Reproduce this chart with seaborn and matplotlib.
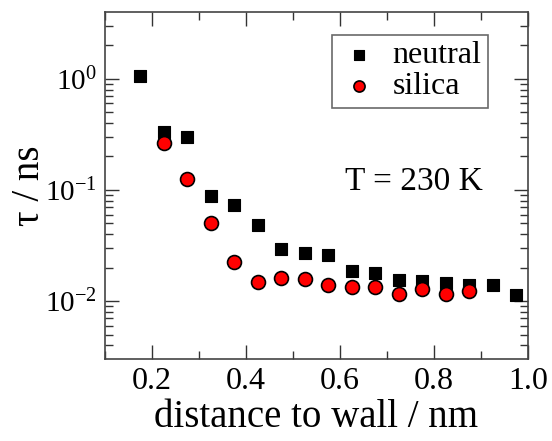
import matplotlib
matplotlib.use("Agg")
import matplotlib.pyplot as plt
import seaborn as sns
import numpy as np
import pandas as pd
from matplotlib.ticker import LogLocator, MultipleLocator, FixedLocator

neutral_x = [0.175, 0.225, 0.275, 0.325, 0.375, 0.425, 0.475, 0.525, 0.575,
             0.625, 0.675, 0.725, 0.775, 0.825, 0.875, 0.925, 0.975]
neutral_tau = [1.05, 0.33, 0.30, 0.088, 0.073, 0.048, 0.0296, 0.0272, 0.026,
               0.0187, 0.018, 0.0154, 0.0151, 0.0146, 0.0141, 0.0139, 0.0113]
silica_x = [0.225, 0.275, 0.325, 0.375, 0.425, 0.475, 0.525, 0.575,
            0.625, 0.675, 0.725, 0.775, 0.825, 0.875]
silica_tau = [0.267, 0.126, 0.050, 0.0225, 0.0149, 0.0163, 0.0157, 0.014,
              0.0134, 0.0135, 0.0116, 0.0128, 0.0117, 0.0124]
x_ticks = [0.2, 0.4, 0.6, 0.8, 1.0]
x_tick_labels = ["0.2", "0.4", "0.6", "0.8", "1.0"]

sns.set_theme(style="white")
plt.rcParams['font.family'] = ['Liberation Serif', 'DejaVu Serif']
plt.rcParams['mathtext.fontset'] = 'custom'
plt.rcParams['mathtext.rm'] = 'Liberation Serif'
plt.rcParams['mathtext.it'] = 'Liberation Serif'
plt.rcParams['text.color'] = 'black'
plt.rcParams['axes.labelcolor'] = 'black'
plt.rcParams['xtick.color'] = 'black'
plt.rcParams['ytick.color'] = 'black'

fig = plt.figure(figsize=(5.52, 4.41), dpi=100)
ax = fig.add_axes([105/552, 1-359/441, (528-105)/552, (359-12)/441])

dn = pd.DataFrame({"x": neutral_x, "tau": neutral_tau})
ds = pd.DataFrame({"x": silica_x, "tau": silica_tau})
sns.scatterplot(data=dn, x="x", y="tau", marker="s", s=70, color="black",
                edgecolor="black", linewidth=0.8, ax=ax, label="neutral", zorder=3)
sns.scatterplot(data=ds, x="x", y="tau", marker="o", s=100, color="red",
                edgecolor="black", linewidth=1.2, ax=ax, label="silica", zorder=4)

ax.set_yscale("log")
ax.set_xlim(0.1, 1.0)
ax.set_ylim(10**-2.52, 10**0.6)
ax.xaxis.set_major_locator(FixedLocator(x_ticks))
ax.set_xticklabels(x_tick_labels)
ax.xaxis.set_minor_locator(MultipleLocator(0.1))
ax.yaxis.set_major_locator(LogLocator(base=10, numticks=10))
ax.yaxis.set_minor_locator(LogLocator(base=10, subs=np.arange(2, 10), numticks=10))
ax.yaxis.set_minor_formatter(matplotlib.ticker.NullFormatter())
ax.tick_params(which="both", direction="in", top=True, right=True,
               bottom=True, left=True, color="#333333", width=1.0)
ax.tick_params(axis="x", which="major", labelsize=23)
ax.tick_params(axis="y", which="major", labelsize=21)
ax.tick_params(which="major", length=10, pad=6)
ax.tick_params(which="minor", length=6)
for s in ax.spines.values():
    s.set_color("#444444")
    s.set_linewidth(1.2)

ax.set_xlabel("distance to wall / nm", fontsize=28, labelpad=2)
ax.set_ylabel("τ / ns", fontsize=28, labelpad=-2)

ax.text(0.567, 0.51, "T = 230 K", transform=ax.transAxes, fontsize=24,
        ha="left", va="center")

leg = ax.legend(loc="upper right", bbox_to_anchor=(0.905, 0.935), fontsize=23,
                frameon=True, fancybox=False, edgecolor="#444444",
                handletextpad=0.4, borderpad=0.2, labelspacing=0.05,
                handlelength=1.3, borderaxespad=0, markerscale=0.8)
leg.get_frame().set_linewidth(1.2)

fig.savefig("out.png", dpi=100)
